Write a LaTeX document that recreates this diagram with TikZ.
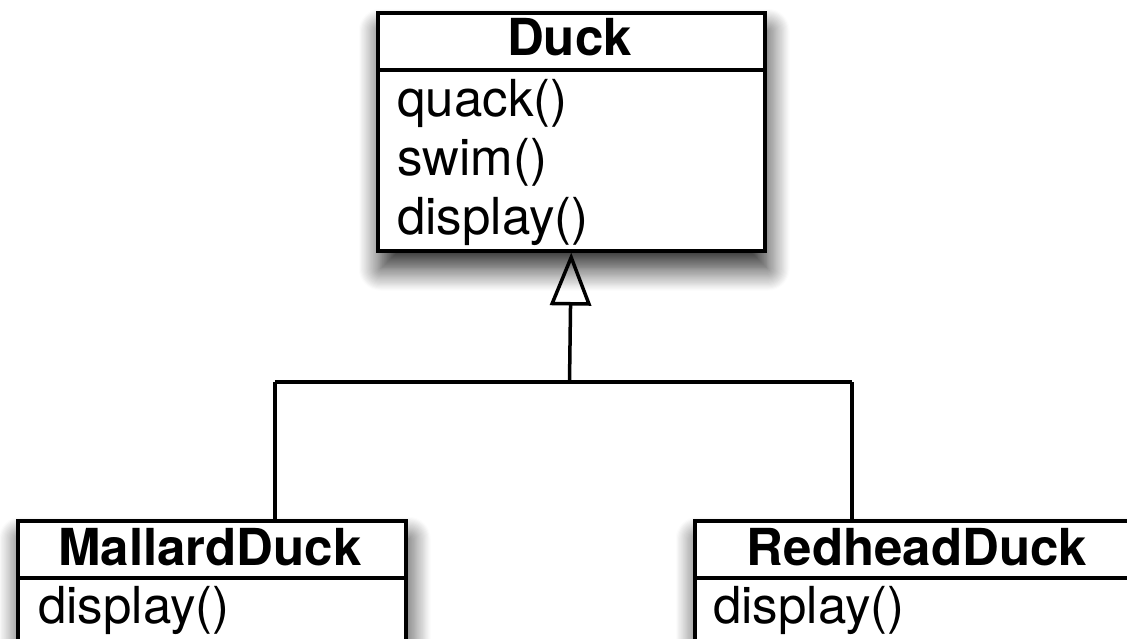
\documentclass[tikz,border=0pt]{standalone}
\usepackage{fontspec}
\setmainfont{TeX Gyre Heros}
\usetikzlibrary{shadows.blur,arrows.meta}
\tikzset{
  umlbox/.style={draw=black, line width=3.5pt, fill=white, rectangle, anchor=north west, inner sep=0pt,
    blur shadow={shadow xshift=3pt, shadow yshift=-18pt, shadow blur radius=22pt, shadow blur steps=20, shadow opacity=85}},
  umltitle/.style={anchor=base, inner sep=0pt, font=\fontsize{51}{60}\selectfont\bfseries},
  umlop/.style={anchor=base west, inner sep=0pt, font=\fontsize{51}{60}\selectfont},
  divider/.style={line width=3.5pt},
  conn/.style={line width=3.5pt},
  inherit/.style={line width=3.5pt, -{Triangle[open, length=53pt, width=41pt, line join=miter]}}
}
\begin{document}
\begin{tikzpicture}[x=1pt,y=-1pt]
\useasboundingbox (0,0) rectangle (1127,638);
\clip (0,0) rectangle (1127,638);
% Duck
\node[umlbox, minimum width=387pt, minimum height=238pt] (duck) at (376,11) {};
\draw[divider] (376,70) -- (763,70);
\node[umltitle] (ducktitle) at (569.5,55) {Duck};
\node[umlop] (quack) at (397,116) {quack()};
\node[umlop] (swim) at (397,175) {swim()};
\node[umlop] (display) at (397,234) {display()};
% MallardDuck
\node[umlbox, minimum width=388pt, minimum height=200pt] (mal) at (16,519) {};
\draw[divider] (16,578) -- (404,578);
\node[umltitle] (maltitle) at (210,565) {MallardDuck};
\node[umlop] (maldisp) at (38,623) {display()};
% RedheadDuck
\node[umlbox, minimum width=448pt, minimum height=200pt] (red) at (693,519) {};
\draw[divider] (693,578) -- (1141,578);
\node[umltitle] (redtitle) at (917,565) {RedheadDuck};
\node[umlop] (reddisp) at (713,623) {display()};
% connectors
\coordinate (jc) at (569.5,382);
\coordinate (jl) at (275,382);
\coordinate (jr) at (852,382);
\draw[inherit] (jc) -- (duck.south);
\draw[conn] (jl) -- (jr);
\draw[conn] (jl) -- (jl |- mal.north);
\draw[conn] (jr) -- (jr |- red.north);
\end{tikzpicture}
\end{document}
